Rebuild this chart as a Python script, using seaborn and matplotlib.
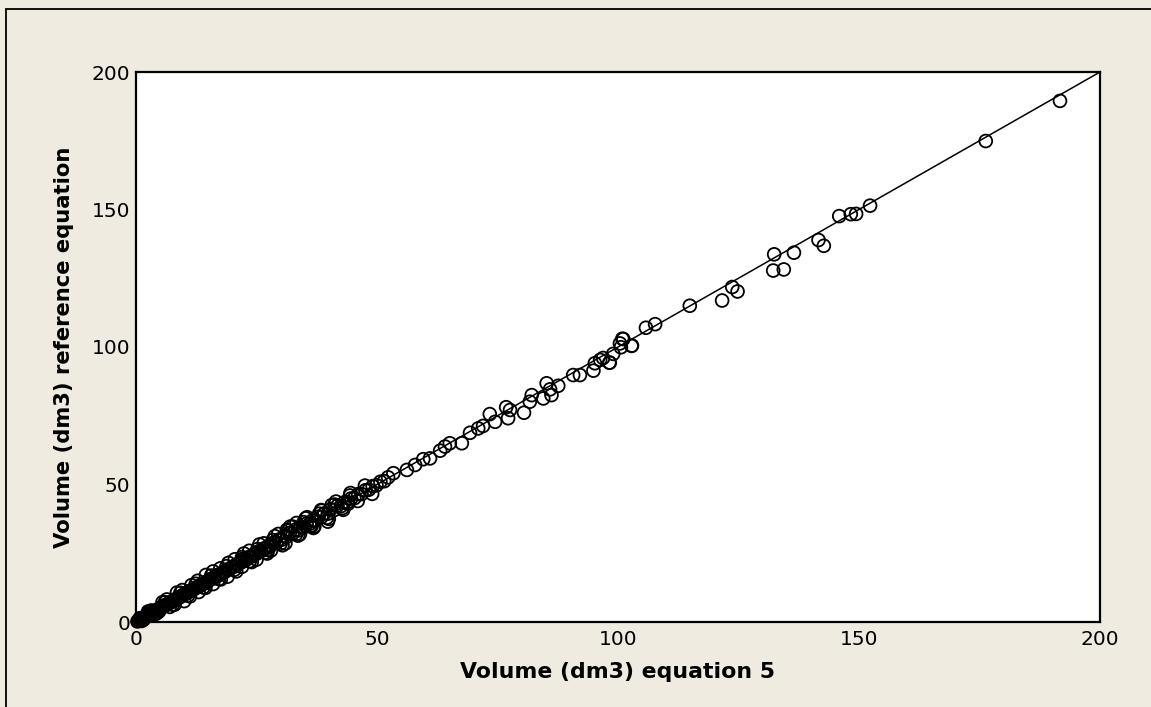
import numpy as np
import pandas as pd
import matplotlib
matplotlib.use("Agg")
import matplotlib.pyplot as plt
from matplotlib.lines import Line2D
import seaborn as sns

# data: volume from equation 5 vs reference equation
vol_eq5 = [
    0.3, 0.5, 0.8, 1.0, 1.2, 1.5, 1.8, 2.0, 2.3, 2.6,
    3.0, 3.3, 3.6, 4.0, 4.3, 4.7, 5.0, 5.4, 5.8, 6.1,
    6.5, 6.9, 7.2, 7.6, 8.0, 8.4, 8.8, 9.1, 9.5, 9.9,
    10.3, 10.7, 11.0, 11.4, 11.8, 12.2, 12.6, 13.0, 13.4, 13.8,
    14.2, 14.6, 15.0, 15.5, 15.9, 16.3, 16.8, 17.2, 17.6, 18.1,
    18.5, 19.0, 19.4, 19.9, 20.3, 20.8, 21.2, 21.7, 22.1, 22.6,
    23.0, 23.5, 24.0, 24.5, 25.0, 25.5, 26.0, 26.5, 27.0, 27.5,
    28.0, 28.6, 29.1, 29.7, 30.2, 30.8, 31.3, 31.9, 32.5, 33.1,
    33.6, 34.2, 34.8, 35.4, 36.0, 36.6, 37.2, 37.9, 38.5, 39.1,
    39.8, 40.4, 41.1, 41.8, 42.5, 43.2, 43.9, 44.6, 45.3, 46.1,
    46.8, 47.6, 48.3, 49.1, 49.9, 50.7, 51.5, 52.3,
    # upper and lower edge of the dense band
    2.5, 4.0, 5.5, 7.0, 8.5, 10.0, 11.5, 13.0, 14.5, 16.0,
    17.5, 19.0, 20.5, 22.0, 23.5, 25.0, 26.5, 28.0, 29.5, 31.0,
    32.5, 34.0, 35.5, 37.0, 38.5, 40.0, 41.5, 43.0, 44.5, 46.0,
    47.5, 49.0,
    1.2, 2.8, 4.4, 6.0, 7.6, 9.2, 10.8, 12.4, 14.0, 15.6,
    17.2, 18.8, 20.4, 22.0, 23.6, 25.2, 26.8, 28.4, 30.0, 31.6,
    33.2, 34.8, 36.4, 38.0, 39.6, 41.2, 42.8, 44.4,
    0.8, 1.6, 3.2, 4.8, 6.4, 8.0, 9.6, 11.2, 12.8, 14.4,
    16.0, 17.6, 19.2, 20.8, 22.4, 24.0, 25.6, 27.2, 28.8, 30.4,
    32.0, 33.6, 35.2, 36.8, 38.4,
    31.3, 33.3, 40.6, 39.8, 36.2, 27.4, 22.0, 44.0,
    # middle range
    53.4, 56.2, 57.9, 59.6, 61.0, 63.1, 64.1, 65.1, 67.6, 69.3,
    71.0, 72.0, 73.4, 74.5, 77.2, 76.8, 77.6, 80.5, 81.7, 82.1,
    84.5, 86.2, 85.2, 85.9, 87.6, 90.7, 92.1, 94.9, 95.2, 96.3,
    98.2, 99.0, 100.4, 100.9, 102.9, 105.8, 107.7,
    96.9, 98.3, 100.6, 101.1, 102.8,
    # large trees
    114.9, 121.6, 123.7, 124.8, 132.4, 132.2, 134.4, 136.5,
    141.6, 142.7, 145.9, 148.3, 149.4, 152.3, 176.3, 191.7,
]
vol_ref = [
    0.2, 0.6, 0.7, 1.1, 1.1, 1.6, 1.7, 2.1, 2.2, 2.7,
    2.9, 3.4, 3.5, 4.1, 4.2, 4.8, 4.9, 5.5, 5.7, 6.2,
    6.4, 7.0, 7.1, 7.7, 7.9, 8.5, 8.7, 9.2, 9.4, 10.0,
    10.2, 10.8, 10.9, 11.5, 11.7, 12.3, 12.5, 13.1, 13.2, 13.9,
    14.0, 14.7, 14.9, 15.6, 15.8, 16.4, 16.6, 17.3, 17.5, 18.2,
    18.3, 19.1, 19.2, 20.0, 20.1, 20.9, 21.0, 21.9, 21.9, 22.8,
    22.8, 23.7, 23.8, 24.7, 24.8, 25.7, 25.8, 26.7, 26.8, 27.7,
    27.8, 28.9, 28.8, 30.0, 29.9, 31.2, 31.0, 32.4, 32.2, 33.6,
    33.3, 34.5, 34.4, 35.8, 35.7, 36.9, 37.0, 38.3, 38.2, 39.5,
    39.4, 41.0, 40.7, 42.3, 42.1, 43.5, 43.6, 44.9, 45.0, 46.5,
    46.5, 47.9, 48.1, 49.4, 49.7, 51.0, 51.2, 52.6,
    3.8, 2.9, 7.2, 5.5, 10.7, 7.6, 13.4, 10.9, 17.1, 13.8,
    19.5, 16.5, 22.8, 20.1, 25.9, 22.7, 28.6, 26.0, 32.0, 28.6,
    34.7, 31.9, 38.1, 34.7, 40.5, 37.5, 43.8, 40.8, 46.9, 44.0,
    49.6, 46.6,
    0.4, 3.7, 3.3, 7.2, 6.3, 10.6, 9.6, 13.9, 12.6, 16.9,
    15.6, 20.3, 19.0, 23.6, 22.1, 26.5, 25.2, 29.8, 28.5, 33.3,
    31.9, 36.3, 34.8, 39.4, 37.9, 42.7, 41.4, 46.0,
    1.4, 0.9, 4.2, 3.9, 8.2, 6.3, 11.6, 9.3, 15.0, 12.4,
    18.4, 15.5, 21.5, 18.4, 24.9, 21.8, 28.2, 24.9, 31.2, 27.9,
    34.7, 31.4, 37.7, 34.2, 40.7,
    33.5, 36.0, 42.5, 36.5, 35.0, 26.2, 22.9, 43.0,
    54.1, 55.3, 57.1, 59.2, 59.5, 62.3, 63.8, 65.0, 65.0, 68.8,
    70.4, 71.3, 75.6, 72.8, 74.1, 78.1, 77.1, 76.1, 80.1, 82.5,
    81.3, 82.5, 86.8, 84.6, 85.9, 89.8, 89.8, 91.4, 94.1, 95.3,
    94.3, 97.5, 101.3, 103.0, 100.5, 107.0, 108.3,
    96.0, 94.3, 99.9, 102.9, 100.4,
    115.0, 116.9, 121.8, 120.2, 133.7, 127.8, 128.2, 134.3,
    138.9, 136.8, 147.6, 148.3, 148.4, 151.4, 174.9, 189.5,
]
df = pd.DataFrame({"eq5": vol_eq5, "ref": vol_ref})

axis_min, axis_max = 0, 200
ticks = [0, 50, 100, 150, 200]

sns.set_style("white")
plt.rcParams["font.family"] = ["DejaVu Sans"]

fig = plt.figure(figsize=(11.51, 7.07), dpi=100)
fig.patch.set_facecolor("#EFEBE1")
ax = fig.add_axes([136 / 1151, 1 - 622 / 707, 964 / 1151, 550 / 707])
ax.set_facecolor("white")

# 1:1 line
ax.plot([axis_min, axis_max], [axis_min, axis_max], color="black", lw=1.1, zorder=2)

sns.scatterplot(
    data=df, x="eq5", y="ref", ax=ax,
    marker="o", s=85, facecolors="none", edgecolor="black",
    linewidth=1.3, clip_on=False, zorder=3,
)

ax.set_xlim(axis_min, axis_max)
ax.set_ylim(axis_min, axis_max)
ax.set_xticks(ticks)
ax.set_yticks(ticks)
ax.tick_params(direction="in", length=7, width=1.2, labelsize=14.5,
               colors="black", pad=6, top=False, right=False)
ax.tick_params(axis="y", pad=4)
for sp in ax.spines.values():
    sp.set_linewidth(1.6)
    sp.set_color("black")

ax.set_xlabel("Volume (dm3) equation 5", fontsize=15.8, fontweight="bold", color="black")
ax.set_ylabel("Volume (dm3) reference equation", fontsize=15.2, fontweight="bold", color="black")
ax.xaxis.set_label_coords(0.5, -0.073)
ax.yaxis.set_label_coords(-0.064, 0.5)

# outer frame lines (top and left of the panel)
fig.add_artist(Line2D([6 / 1151, 1.0], [1 - 9 / 707, 1 - 9 / 707], color="black", lw=1.3))
fig.add_artist(Line2D([6 / 1151, 6 / 1151], [0.0, 1 - 9 / 707], color="black", lw=1.3))

fig.savefig("out.png", dpi=100, facecolor=fig.get_facecolor())
print("Saved: out.png")
